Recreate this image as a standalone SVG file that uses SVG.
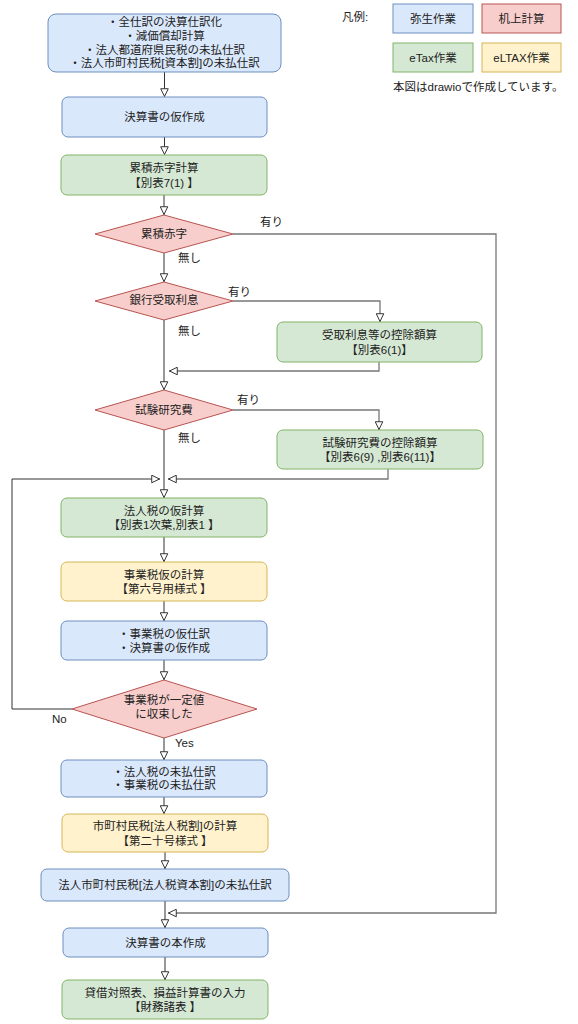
<svg xmlns="http://www.w3.org/2000/svg" width="578" height="1024" viewBox="0 0 578 1024">
<style>
text{font-family:"Liberation Sans","Noto Sans CJK JP",sans-serif;font-size:11.5px;fill:#222;text-anchor:middle;dominant-baseline:central}
.b{fill:#dae8fc;stroke:#6c8ebf}
.r{fill:#f8cecc;stroke:#b85450}
.g{fill:#d5e8d4;stroke:#82b366}
.y{fill:#fff2cc;stroke:#d6b656}
.c{fill:none;stroke:#333;stroke-width:1;marker-end:url(#a)}
.c2{fill:none;stroke:#777;stroke-width:1.3;marker-end:url(#a)}
.lab{text-anchor:start}
</style>
<defs>
<marker id="a" viewBox="0 0 10 10" refX="10" refY="5" markerWidth="9" markerHeight="9" markerUnits="userSpaceOnUse" orient="auto">
<path d="M0.8,0.8 L9.4,5 L0.8,9.2 z" fill="#fff" stroke="#333" stroke-width="1.1"/>
</marker>
</defs>
<rect width="578" height="1024" fill="#fff"/>

<g id="legend">
<text x="342" y="17" class="lab">凡例:</text>
<rect class="b" x="393" y="4" width="80" height="29"/><text x="433" y="18.5">弥生作業</text>
<rect class="r" x="482" y="4" width="79" height="29"/><text x="521.5" y="18.5">机上計算</text>
<rect class="g" x="393" y="43" width="80" height="29"/><text x="433" y="57.5">eTax作業</text>
<rect class="y" x="482" y="43" width="79" height="29"/><text x="521.5" y="57.5">eLTAX作業</text>
<text x="393" y="87" class="lab">本図はdrawioで作成しています。</text>
</g>

<g id="connectors">
<path class="c" d="M164.5,72 V97"/>
<path class="c" d="M164.5,137 V155"/>
<path class="c" d="M164,195 V215"/>
<path class="c" d="M164,253 V282"/>
<path class="c2" d="M233,301 H380 V322"/>
<path class="c2" d="M379,362 V371 H169"/>
<path class="c" d="M164,320 V390"/>
<path class="c2" d="M233,410 H379 V430"/>
<path class="c2" d="M388,469 V479 H168"/>
<path class="c" d="M164,430 V498"/>
<path class="c" d="M72,709 H12 V479 H160"/>
<path class="c" d="M164,537 V562"/>
<path class="c" d="M164,601 V621"/>
<path class="c" d="M164,660 V680"/>
<path class="c" d="M164,738 V760"/>
<path class="c" d="M164,797 V814"/>
<path class="c" d="M165,852 V869"/>
<path class="c" d="M165,901 V928"/>
<path class="c2" d="M233,234 H496 V913 H168"/>
<path class="c" d="M165,957 V980"/>
<text x="260" y="222" class="lab">有り</text>
<text x="178" y="258" class="lab">無し</text>
<text x="228" y="292" class="lab">有り</text>
<text x="178" y="331" class="lab">無し</text>
<text x="237" y="400" class="lab">有り</text>
<text x="178" y="438" class="lab">無し</text>
<text x="52" y="719" class="lab">No</text>
<text x="175" y="743" class="lab">Yes</text>
</g>

<g id="n1"><rect class="b" x="48" y="14" width="233" height="58" rx="8"/>
<text x="164.5" y="22">・全仕訳の決算仕訳化</text>
<text x="164.5" y="35.5">・減価償却計算</text>
<text x="164.5" y="49.5">・法人都道府県民税の未払仕訳</text>
<text x="164.5" y="63">・法人市町村民税[資本割]の未払仕訳</text></g>

<g id="n2"><rect class="b" x="62" y="97" width="205" height="40" rx="6"/>
<text x="164.5" y="117">決算書の仮作成</text></g>

<g id="n3"><rect class="g" x="61" y="155" width="206" height="40" rx="6"/>
<text x="164" y="168">累積赤字計算</text>
<text x="164" y="183">【別表7(1) 】</text></g>

<g id="d1"><path class="r" d="M164,215 L233,234 L164,253 L95,234 z"/>
<text x="164" y="234">累積赤字</text></g>

<g id="d2"><path class="r" d="M164,282 L233,301 L164,320 L95,301 z"/>
<text x="164" y="300">銀行受取利息</text></g>

<g id="b1"><rect class="g" x="277" y="322" width="205" height="40" rx="6"/>
<text x="379.5" y="335">受取利息等の控除額算</text>
<text x="379.5" y="349.5">【別表6(1)】</text></g>

<g id="d3"><path class="r" d="M164,390 L233,410 L164,430 L95,410 z"/>
<text x="164" y="410">試験研究費</text></g>

<g id="b2"><rect class="g" x="277" y="430" width="206" height="39" rx="6"/>
<text x="380" y="442.5">試験研究費の控除額算</text>
<text x="380" y="457">【別表6(9) ,別表6(11)】</text></g>

<g id="n4"><rect class="g" x="61" y="498" width="206" height="39" rx="6"/>
<text x="164" y="510.5">法人税の仮計算</text>
<text x="164" y="525">【別表1次葉,別表1 】</text></g>

<g id="n5"><rect class="y" x="61" y="562" width="206" height="39" rx="6"/>
<text x="164" y="574.5">事業税仮の計算</text>
<text x="164" y="589">【第六号用様式 】</text></g>

<g id="n6"><rect class="b" x="61" y="621" width="206" height="39" rx="6"/>
<text x="164" y="633.5">・事業税の仮仕訳</text>
<text x="164" y="648">・決算書の仮作成</text></g>

<g id="d4"><path class="r" d="M164,680 L257,709 L164,738 L72,709 z"/>
<text x="164" y="700">事業税が一定値</text>
<text x="164" y="714">に収束した</text></g>

<g id="n7"><rect class="b" x="61" y="760" width="206" height="37" rx="6"/>
<text x="164" y="771.5">・法人税の未払仕訳</text>
<text x="164" y="785">・事業税の未払仕訳</text></g>

<g id="n8"><rect class="y" x="62" y="814" width="206" height="38" rx="6"/>
<text x="165" y="826">市町村民税[法人税割]の計算</text>
<text x="165" y="840.5">【第二十号様式 】</text></g>

<g id="n9"><rect class="b" x="41" y="869" width="248" height="32" rx="6"/>
<text x="165" y="885">法人市町村民税[法人税資本割]の未払仕訳</text></g>

<g id="n10"><rect class="b" x="63" y="928" width="205" height="29" rx="6"/>
<text x="165.5" y="942.5">決算書の本作成</text></g>

<g id="n11"><rect class="g" x="62" y="980" width="206" height="39" rx="6"/>
<text x="165" y="992.5">貸借対照表、損益計算書の入力</text>
<text x="165" y="1007">【財務諸表 】</text></g>
</svg>
